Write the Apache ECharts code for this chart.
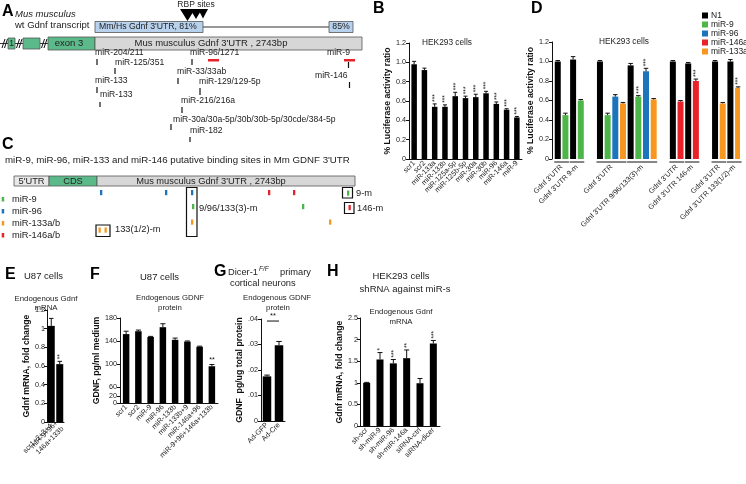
<!DOCTYPE html>
<html><head><meta charset="utf-8">
<script src="https://cdn.jsdelivr.net/npm/echarts@6/dist/echarts.min.js"></script>
<style>html,body{margin:0;padding:0;background:#fff}#c{width:746px;height:484px}</style>
</head><body><div id="c"></div>
<script>
// ---------------- DATA ----------------
// Panel B
const bCats = ['scr1','scr2','miR-133a','miR-133b','miR-125a-5p','miR-125b-5p','miR-30a','miR-30b','miR-96','miR-146a','miR-9'];
const bVals = [0.98,0.92,0.54,0.54,0.65,0.63,0.64,0.68,0.57,0.51,0.43];
const bErrs = [0.03,0.02,0.03,0.02,0.04,0.02,0.03,0.02,0.02,0.01,0.01];
const bStars = ['','','***','***','***','***','***','***','***','***','***'];
// Panel D (8 constructs)
const dGroups = ["Gdnf 3'UTR","Gdnf 3'UTR 9-m","Gdnf 3'UTR","Gdnf 3'UTR 9/96/133(3)-m","Gdnf 3'UTR","Gdnf 3'UTR 146-m","Gdnf 3'UTR","Gdnf 3'UTR 133(1/2)-m"];
const dNames = ['N1','miR-9','miR-96','miR-146a','miR-133a'];
const dN1      = [1.00,1.02,1.00,0.96,1.00,0.98,1.00,1.00];
const dMiR9    = [0.45,0.60,0.45,0.64,null,null,null,null];
const dMiR96   = [null,null,0.64,0.90,null,null,null,null];
const dMiR146a = [null,null,null,null,0.59,0.80,null,null];
const dMiR133a = [null,null,0.57,0.61,null,null,0.57,0.73];
const dN1Err      = [0.01,0.03,0.01,0.02,0.01,0.01,0.01,0.02];
const dMiR9Err    = [0.02,0.01,0.02,0.01,null,null,null,null];
const dMiR96Err   = [null,null,0.02,0.03,null,null,null,null];
const dMiR146aErr = [null,null,null,null,0.01,0.02,null,null];
const dMiR133aErr = [null,null,0.01,0.01,null,null,0.01,0.01];
const dMiR9Stars    = ['','','','***','','','',''];
const dMiR96Stars   = ['','','','***','','','',''];
const dMiR146aStars = ['','','','','','***','',''];
const dMiR133aStars = ['','','','','','','','***'];
// Panel E
const eCats = ['scr1+2+3+4','miR-9+96+\n146a+133b'];
const eVals = [1.03,0.62];
const eErrs = [0.08,0.03];
const eStars = ['','**'];
// Panel F
const fCats = ['scr1','scr2','miR-9','miR-96','miR-133b','miR-133b+9','miR-146a+96','miR-9+96+146a+133b'];
const fVals = [152,157,147,164,142,139,130,96];
const fErrs = [5,2,1,6,3,1,1,3];
const fStars = ['','','','','','','','**'];
const fTickVals = [32,44,60,100,140,180];
const fTickLabels = ['0','20','60','100','140','180'];
// Panel G
const gCats = ['Ad-GFP','Ad-Cre'];
const gVals = [0.0175,0.0297];
const gErrs = [0.0005,0.0015];
const gSig = [[0,1,0.0392,'**']];
// Panel H
const hCats = ['sh-scr','sh-miR-9','sh-miR-96','sh-miR-146a','siRNA-ctrl','siRNA-dicer'];
const hVals = [1.0,1.54,1.45,1.57,0.99,1.91];
const hErrs = [0.01,0.16,0.09,0.19,0.11,0.07];
const hStars = ['','*','***','**','','***'];

// ---------------- LAYOUT / STYLE ----------------
const FONT = '"Liberation Sans", Arial, Helvetica, sans-serif';
const dColors = {'N1':'#000000','miR-9':'#4cb748','miR-96':'#1c75bc','miR-146a':'#e8222a','miR-133a':'#f7971f'};
const dSeriesVals = {'N1':dN1,'miR-9':dMiR9,'miR-96':dMiR96,'miR-146a':dMiR146a,'miR-133a':dMiR133a};
const dSeriesErrs = {'N1':dN1Err,'miR-9':dMiR9Err,'miR-96':dMiR96Err,'miR-146a':dMiR146aErr,'miR-133a':dMiR133aErr};
const dSeriesStars = {'N1':[],'miR-9':dMiR9Stars,'miR-96':dMiR96Stars,'miR-146a':dMiR146aStars,'miR-133a':dMiR133aStars};
const dGroupStart = [1,5,12,20,31,35,42,46];
const dSlots = 49;

const dBarData = {}; dNames.forEach(n => dBarData[n] = new Array(dSlots).fill(null));
const dErrItems = [];
const dGroupSpan = [];
const dCatLabels = new Array(dSlots).fill('');
dGroups.forEach((g, gi) => {
  let k = 0;
  dNames.forEach(n => {
    const v = dSeriesVals[n][gi];
    if (v == null) return;
    const slot = dGroupStart[gi] + 2 * k;
    dBarData[n][slot] = v;
    dErrItems.push({x: slot, v: v, e: dSeriesErrs[n][gi], s: dSeriesStars[n][gi] || ''});
    k++;
  });
  dGroupSpan.push([dGroupStart[gi], dGroupStart[gi] + 2 * (k - 1)]);
  dCatLabels[dGroupStart[gi] + (k - 1)] = g;
});

function errSeries(ai, items, cap, fs, rot) {
  return {
    type: 'custom', xAxisIndex: ai, yAxisIndex: ai, silent: true, z: 5,
    data: items.map(d => [d.x, d.v, d.e]),
    renderItem(params, api) {
      const d = items[params.dataIndex];
      const p0 = api.coord([api.value(0), api.value(1)]);
      const p1 = api.coord([api.value(0), api.value(1) + api.value(2)]);
      const ch = [
        {type: 'line', shape: {x1: p0[0], y1: p0[1], x2: p1[0], y2: p1[1]}, style: {stroke: '#111', lineWidth: 1}},
        {type: 'line', shape: {x1: p1[0] - cap / 2, y1: p1[1], x2: p1[0] + cap / 2, y2: p1[1]}, style: {stroke: '#111', lineWidth: 1}}
      ];
      if (d.s) {
        if (rot) ch.push({type: 'text', x: p1[0] + 0.5, y: p1[1] - 2, rotation: Math.PI / 2,
          style: {text: d.s, fill: '#111', fontSize: fs, fontFamily: FONT, textAlign: 'left', textVerticalAlign: 'middle', align: 'left', verticalAlign: 'middle'}});
        else ch.push({type: 'text', x: p1[0], y: p1[1] - 1,
          style: {text: d.s, fill: '#111', fontSize: fs, fontFamily: FONT, textAlign: 'center', textVerticalAlign: 'bottom', align: 'center', verticalAlign: 'bottom'}});
      }
      return {type: 'group', children: ch};
    }
  };
}
const simpleItems = (vals, errs, stars) => vals.map((v, i) => ({x: i, v: v, e: errs[i], s: stars ? stars[i] : ''}));

function yAxis(gi, o) {
  return {
    type: 'value', gridIndex: gi, min: o.min, max: o.max, interval: o.interval,
    name: o.name, nameLocation: 'middle', nameGap: o.nameGap, nameRotate: 90,
    nameTextStyle: {fontSize: o.nameSize || 8.7, fontWeight: 'bold', fontFamily: FONT, color: '#111'},
    axisLine: {show: true, lineStyle: {color: '#111', width: 1}},
    axisTick: {show: true, length: 3, lineStyle: {color: '#111'}, customValues: o.customValues},
    splitLine: {show: false},
    axisLabel: {fontSize: 7.2, color: '#222', fontFamily: FONT, margin: o.lblMargin || 3, formatter: o.fmt, customValues: o.customValues}
  };
}
function xAxis(gi, cats, o) {
  o = o || {};
  return {
    type: 'category', gridIndex: gi, data: cats,
    axisLine: {show: o.line !== false, lineStyle: {color: '#111', width: 1}},
    axisTick: {show: false},
    axisLabel: {interval: 0, rotate: 45, fontSize: 7.2, color: '#222', fontFamily: FONT, margin: o.margin || 3, lineHeight: 8}
  };
}
const fmt1 = v => v === 0 ? '0' : v.toFixed(1);
const fmtShort = v => String(+v.toFixed(2));

// ---------------- SCHEMATICS (A, C) + headers ----------------
const G = [];
function txt(x, y, s, o) {
  o = o || {};
  G.push({type: 'text', x: x, y: y, silent: true, style: {text: s, fill: o.color || '#222',
    font: (o.italic ? 'italic ' : '') + (o.bold ? 'bold ' : '') + (o.size || 8) + 'px ' + FONT,
    textAlign: o.align || 'left', textVerticalAlign: 'middle', align: o.align || 'left', verticalAlign: 'middle'}});
}
function rect(x, y, w, h, fill, stroke, lw) {
  G.push({type: 'rect', silent: true, shape: {x: x, y: y, width: w, height: h}, style: {fill: fill || 'none', stroke: stroke || null, lineWidth: lw || 0.8}});
}
function line(x1, y1, x2, y2, c, lw) {
  G.push({type: 'line', silent: true, shape: {x1: x1, y1: y1, x2: x2, y2: y2}, style: {stroke: c || '#222', lineWidth: lw || 1}});
}
const GREEN = '#5cb98a', GRAY = '#d7d7d7', BLUEBOX = '#b8d1ec', EDGE = '#555';
// Panel A
txt(2, 12, 'A', {bold: true, size: 16, color: '#000'});
txt(15, 14, 'Mus musculus', {italic: true, size: 9.5});
txt(15, 25.5, 'wt Gdnf transcript', {size: 9.5});
txt(196, 5, 'RBP sites', {size: 8.5, align: 'center'});
G.push({type: 'polygon', silent: true, shape: {points: [[180, 9], [195, 9], [187.5, 21]]}, style: {fill: '#000'}});
G.push({type: 'polygon', silent: true, shape: {points: [[190, 9], [202, 9], [196, 19]]}, style: {fill: '#000'}});
G.push({type: 'polygon', silent: true, shape: {points: [[198, 9], [208, 9], [203, 18.5]]}, style: {fill: '#000'}});
line(203, 27, 329, 27, '#333', 1);
rect(95, 21.5, 108, 11, BLUEBOX, EDGE);
txt(99, 27, "Mm/Hs Gdnf 3'UTR, 81%", {size: 8.7});
rect(329, 21.5, 24, 11, BLUEBOX, EDGE);
txt(341, 27, '85%', {size: 8.7, align: 'center'});
line(0, 43.5, 95, 43.5, '#333', 1);
[2, 16.5, 41.5].forEach(x => { line(x, 48, x + 3, 39, '#111', 1); line(x + 2.5, 48, x + 5.5, 39, '#111', 1); });
rect(8, 38, 7, 11, GREEN, EDGE);
txt(11.5, 43.5, '1', {size: 8.5, align: 'center'});
rect(23, 38, 17, 11, GREEN, EDGE);
rect(48, 37, 47, 13, GREEN, EDGE);
txt(69, 43.5, 'exon 3', {size: 9.5, align: 'center'});
rect(95, 37, 267, 13, GRAY, EDGE);
txt(211, 43.5, "Mus musculus Gdnf 3'UTR , 2743bp", {size: 9.5, align: 'center'});
const aSites = [
  ['miR-204/211', 95, 53, 97, 59, 65], ['miR-125/351', 115, 62.5, 115, 68, 74],
  ['miR-133', 95, 81, 97, 87, 93], ['miR-133', 100, 95, 100, 102, 107],
  ['miR-96/1271', 190, 53, 192, 59, 65], ['miR-33/33ab', 177, 72, 178, 78, 84],
  ['miR-129/129-5p', 199, 82, 200, 88, 95], ['miR-216/216a', 181, 101, 182, 107, 113],
  ['miR-30a/30a-5p/30b/30b-5p/30cde/384-5p', 173, 120, 171, 124, 130], ['miR-182', 190, 131, 190, 137, 142],
  ['miR-9', 327, 53, 348.5, 62, 68], ['miR-146', 315, 75.5, 349.5, 82, 88]
];
aSites.forEach(s => { txt(s[1], s[2], s[0], {size: 8.6}); line(s[3], s[4], s[3], s[5], '#111', 1.2); });
rect(208, 59, 11, 2.5, '#e8222a');
rect(344, 59, 11, 2.5, '#e8222a');
// Panel C
txt(2, 145, 'C', {bold: true, size: 16, color: '#000'});
txt(5, 160, "miR-9, miR-96, miR-133 and miR-146 putative binding sites in Mm GDNF 3'UTR", {size: 9.7});
rect(14, 176, 35, 10, '#e8e8e8', EDGE);
txt(31.5, 181, "5'UTR", {size: 9.3, align: 'center'});
rect(49, 176, 48, 10, GREEN, EDGE);
txt(73, 181, 'CDS', {size: 9.3, align: 'center'});
rect(97, 176, 258, 10, GRAY, EDGE);
txt(211, 181, "Mus musculus Gdnf 3'UTR , 2743bp", {size: 9.3, align: 'center'});
const cBlue = '#1c75bc', cGreen = '#4cb748', cOrange = '#f7971f', cRed = '#e8222a';
[[100, 190, cBlue], [165, 190, cBlue], [191, 190, cBlue], [268, 190, cRed], [293, 190, cRed], [347, 190.5, cGreen],
 [192, 204, cGreen], [302, 204, cGreen], [348.5, 205, cRed],
 [191, 219.5, cOrange], [329, 219.5, cOrange], [98.5, 227.5, cOrange], [104.5, 227.5, cOrange]]
  .forEach(t => rect(t[0], t[1], 2.3, 5.2, t[2]));
rect(186.5, 187.5, 10.5, 49, null, '#111', 1.2);
rect(342.5, 187.5, 10, 10.5, null, '#111', 1.2);
rect(344.5, 202.5, 9.5, 11, null, '#111', 1.2);
rect(96, 225, 14, 11.5, null, '#111', 1.2);
txt(199, 208, '9/96/133(3)-m', {size: 9.3});
txt(356, 193, '9-m', {size: 9.3});
txt(357, 208, '146-m', {size: 9.3});
txt(115, 229, '133(1/2)-m', {size: 9.3});
[[197, cGreen, 'miR-9'], [209, cBlue, 'miR-96'], [221, cOrange, 'miR-133a/b'], [233, cRed, 'miR-146a/b']]
  .forEach(l => { rect(1.7, l[0], 2.5, 4.5, l[1]); txt(12, l[0] + 2.5, l[2], {size: 9.3}); });
// panel letters & headers
txt(373, 9, 'B', {bold: true, size: 16, color: '#000'});
txt(531, 9, 'D', {bold: true, size: 16, color: '#000'});
txt(447, 43, 'HEK293 cells', {size: 8.3, align: 'center'});
txt(624, 42, 'HEK293 cells', {size: 8.3, align: 'center'});
txt(5, 275, 'E', {bold: true, size: 16, color: '#000'});
txt(24, 276.5, 'U87 cells', {size: 9.5});
txt(90, 275, 'F', {bold: true, size: 16, color: '#000'});
txt(140, 277, 'U87 cells', {size: 9.5});
txt(214, 272, 'G', {bold: true, size: 16, color: '#000'});
txt(228, 272.5, 'Dicer-1', {size: 9.3});
txt(259, 269, 'F/F', {size: 6.5, italic: true});
txt(280, 272.5, 'primary', {size: 9.3});
txt(230, 283.5, 'cortical neurons', {size: 9.3});
txt(327, 272, 'H', {bold: true, size: 16, color: '#000'});
txt(401, 276, 'HEK293 cells', {size: 9.5, align: 'center'});
txt(405, 289.5, 'shRNA against miR-s', {size: 9.5, align: 'center'});
txt(46, 299, 'Endogenous Gdnf', {size: 7.8, align: 'center'});
txt(46, 308, 'mRNA', {size: 7.8, align: 'center'});
txt(170, 298, 'Endogenous GDNF', {size: 7.8, align: 'center'});
txt(170, 308, 'protein', {size: 7.8, align: 'center'});
txt(277, 298, 'Endogenous GDNF', {size: 7.8, align: 'center'});
txt(278, 308, 'protein', {size: 7.8, align: 'center'});
txt(401, 312, 'Endogenous Gdnf', {size: 7.8, align: 'center'});
txt(401, 322, 'mRNA', {size: 7.8, align: 'center'});

// ---------------- OPTION ----------------
const series = [];
series.push({type: 'bar', xAxisIndex: 0, yAxisIndex: 0, data: bVals, barWidth: 5.5, itemStyle: {color: '#000'}, silent: true});
series.push(errSeries(0, simpleItems(bVals, bErrs, bStars), 4, 6.5, true));
dNames.forEach(n => series.push({type: 'bar', name: n, xAxisIndex: 1, yAxisIndex: 1, data: dBarData[n], barWidth: 6, barGap: '-100%', itemStyle: {color: dColors[n]}, silent: true}));
series.push(errSeries(1, dErrItems, 4.5, 6.5, true));
series.push({type: 'custom', xAxisIndex: 1, yAxisIndex: 1, silent: true, data: dGroupSpan,
  renderItem(params, api) {
    const a = api.coord([api.value(0), 0]), b = api.coord([api.value(1), 0]);
    return {type: 'line', shape: {x1: a[0] - 3.5, y1: a[1] + 3, x2: b[0] + 3.5, y2: b[1] + 3}, style: {stroke: '#111', lineWidth: 1}};
  }});
series.push({type: 'bar', xAxisIndex: 2, yAxisIndex: 2, data: eVals, barWidth: 7, itemStyle: {color: '#000'}, silent: true});
series.push(errSeries(2, simpleItems(eVals, eErrs, eStars), 4.5, 6.5, true));
series.push({type: 'bar', xAxisIndex: 3, yAxisIndex: 3, data: fVals, barWidth: 6.5, itemStyle: {color: '#000'}, silent: true});
series.push(errSeries(3, simpleItems(fVals, fErrs, fStars), 5, 7, false));
series.push({type: 'bar', xAxisIndex: 4, yAxisIndex: 4, data: gVals, barWidth: 8.5, itemStyle: {color: '#000'}, silent: true});
series.push(errSeries(4, simpleItems(gVals, gErrs, null), 5.5, 7, false));
series.push({type: 'custom', xAxisIndex: 4, yAxisIndex: 4, silent: true, data: gSig.map(s => [s[0], s[1], s[2]]),
  renderItem(params, api) {
    const a = api.coord([api.value(0), api.value(2)]), b = api.coord([api.value(1), api.value(2)]);
    return {type: 'group', children: [
      {type: 'line', shape: {x1: a[0], y1: a[1], x2: b[0], y2: b[1]}, style: {stroke: '#111', lineWidth: 1}},
      {type: 'text', x: (a[0] + b[0]) / 2, y: a[1] - 1, style: {text: gSig[params.dataIndex][3], fill: '#111', fontSize: 7.5, fontFamily: FONT, textAlign: 'center', textVerticalAlign: 'bottom', align: 'center', verticalAlign: 'bottom'}}
    ]};
  }});
series.push({type: 'bar', xAxisIndex: 5, yAxisIndex: 5, data: hVals, barWidth: 7, itemStyle: {color: '#000'}, silent: true});
series.push(errSeries(5, simpleItems(hVals, hErrs, hStars), 5, 6.5, true));

const option = {
  animation: false,
  backgroundColor: '#fff',
  textStyle: {fontFamily: FONT},
  grid: [
    {left: 409, top: 43, width: 113, height: 116},
    {left: 552, top: 42, width: 188, height: 117},
    {left: 47, top: 310, width: 17, height: 112},
    {left: 120, top: 318, width: 98, height: 85},
    {left: 261, top: 319, width: 24, height: 102},
    {left: 360, top: 318, width: 80, height: 108}
  ],
  xAxis: [
    xAxis(0, bCats),
    xAxis(1, dCatLabels, {line: false, margin: 7}),
    xAxis(2, eCats),
    xAxis(3, fCats),
    xAxis(4, gCats),
    xAxis(5, hCats)
  ],
  yAxis: [
    yAxis(0, {min: 0, max: 1.2, interval: 0.2, name: '% Luciferase activity ratio', nameGap: 9, fmt: fmt1}),
    yAxis(1, {min: 0, max: 1.2, interval: 0.2, name: '% Luciferase activity ratio', nameGap: 10, fmt: fmt1}),
    yAxis(2, {min: 0, max: 1.2, interval: 0.2, name: 'Gdnf mRNA, fold change', nameGap: 5, fmt: fmtShort, lblMargin: 2}),
    yAxis(3, {min: 32, max: 180, name: 'GDNF, pg/ml medium', nameGap: 12, customValues: fTickVals,
      fmt: v => { const i = fTickVals.indexOf(v); return i >= 0 ? fTickLabels[i] : ''; }}),
    yAxis(4, {min: 0, max: 0.04, interval: 0.01, name: 'GDNF  pg/ug total protein', nameGap: 8, fmt: v => v === 0 ? '0' : v.toFixed(2).slice(1)}),
    yAxis(5, {min: 0, max: 2.5, interval: 0.5, name: 'Gdnf mRNA, fold change', nameGap: 6, fmt: fmtShort, lblMargin: 2})
  ],
  legend: {data: dNames, orient: 'vertical', left: 702, top: 11, padding: 0, itemWidth: 6, itemHeight: 6, itemGap: 0,
    icon: 'rect', selectedMode: false, textStyle: {fontSize: 8.5, lineHeight: 9, color: '#222', fontFamily: FONT, padding: [0, 0, 0, -2]}},
  graphic: G,
  series: series
};
const chart = echarts.init(document.getElementById('c'), null, {renderer: 'canvas'});
chart.setOption(option);
</script></body></html>
